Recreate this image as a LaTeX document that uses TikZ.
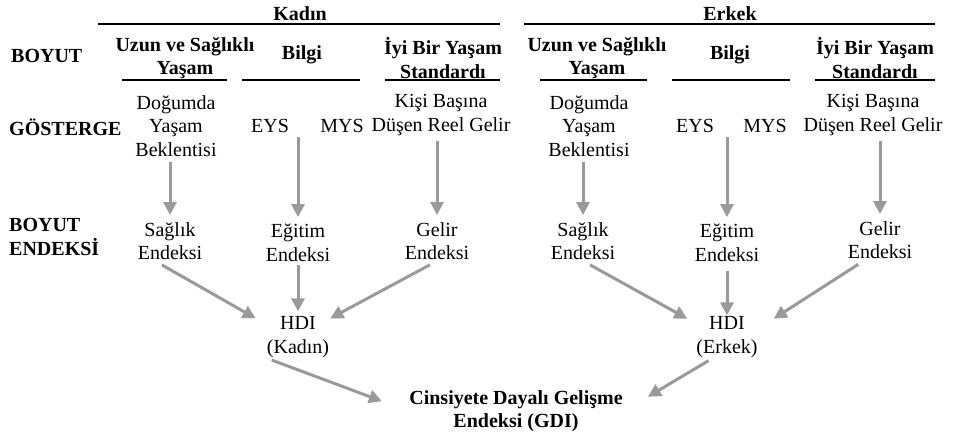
\documentclass[tikz,border=0pt]{standalone}
\usepackage{fontspec}
\setmainfont{Liberation Serif}
\usetikzlibrary{arrows.meta}
\definecolor{arrowgray}{HTML}{9A9A9A}
\begin{document}
\begin{tikzpicture}[x = 1pt, y = -1pt,
	lbl/.style = {align = center, inner sep = 1pt, font = \fontsize{20}{23.5}\selectfont},
	hd/.style = {lbl, font = \fontsize{20}{23.5}\selectfont\bfseries},
	rowlbl/.style = {hd, anchor = west, align = left},
	garrow/.style = {line width = 3pt, color = arrowgray, -{Triangle[width = 13pt, length = 13pt]}},
	rule/.style = {line width = 1.1pt}]
	\useasboundingbox (0, 0) rectangle (953, 437);
	% Row labels
	\node[rowlbl] (boyut) at (10, 56) {BOYUT};
	\node[rowlbl] (gosterge) at (8, 127) {GÖSTERGE};
	\node[rowlbl] (boyutend) at (8, 237) {BOYUT\\ENDEKSİ};
	
	% Headings
	\node[hd] (kadin) at (300, 14) {Kadın};
	\node[hd] (erkek) at (730, 14) {Erkek};
	\draw[rule] (98, 24) -- (500, 24);
	\draw[rule] (524, 24) -- (935, 24);
	
	% Dimensions
	\node[hd] (uzunK) at (185, 58) {Uzun ve Sağlıklı\\Yaşam};
	\node[hd] (bilgiK) at (302, 55) {Bilgi};
	\node[hd] (iyiK) at (443, 58) {İyi Bir Yaşam\\Standardı};
	\node[hd] (uzunE) at (597, 58) {Uzun ve Sağlıklı\\Yaşam};
	\node[hd] (bilgiE) at (730, 55) {Bilgi};
	\node[hd] (iyiE) at (875, 58) {İyi Bir Yaşam\\Standardı};
	\draw[rule] (122, 80) -- (227, 80);
	\draw[rule] (242, 80) -- (360, 80);
	\draw[rule] (385, 80) -- (500, 80);
	\draw[rule] (540, 80) -- (647, 80);
	\draw[rule] (672, 80) -- (790, 80);
	\draw[rule] (815, 80) -- (935, 80);
	
	% Indicators
	\node[lbl] (dogumK) at (176, 126) {Doğumda\\Yaşam\\Beklentisi};
	\node[lbl] (eysK) at (270, 126) {EYS};
	\node[lbl] (mysK) at (342, 126) {MYS};
	\coordinate (egK) at (298, 137);
	\node[lbl] (kisiK) at (441, 115) {Kişi Başına\\Düşen Reel Gelir};
	\node[lbl] (dogumE) at (589, 126) {Doğumda\\Yaşam\\Beklentisi};
	\node[lbl] (eysE) at (695, 126) {EYS};
	\node[lbl] (mysE) at (765, 126) {MYS};
	\coordinate (egE) at (727, 137);
	\node[lbl] (kisiE) at (873, 115) {Kişi Başına\\Düşen Reel Gelir};
	
	% Indices
	\node[lbl] (saglikK) at (170, 241) {Sağlık\\Endeksi};
	\node[lbl] (egitimK) at (298, 243) {Eğitim\\Endeksi};
	\node[lbl] (gelirK) at (437, 241) {Gelir\\Endeksi};
	\node[lbl] (saglikE) at (583, 241) {Sağlık\\Endeksi};
	\node[lbl] (egitimE) at (727, 243) {Eğitim\\Endeksi};
	\node[lbl] (gelirE) at (880, 240) {Gelir\\Endeksi};
	
	\node[lbl] (hdiK) at (298, 337) {HDI\\(Kadın)};
	\node[lbl] (hdiE) at (727, 337) {HDI\\(Erkek)};
	\node[hd] (gdi) at (516, 411) {Cinsiyete Dayalı Gelişme\\Endeksi (GDI)};
	
	% Edges
	\draw[garrow, shorten <= 4pt, shorten >= 6pt] (dogumK.south -| saglikK) -- (saglikK);
	\draw[garrow, shorten >= 6pt] (egK) -- (egitimK);
	\draw[garrow, shorten <= 4pt, shorten >= 6pt] (kisiK.south -| gelirK) -- (gelirK);
	\draw[garrow, shorten <= 4pt, shorten >= 6pt] (dogumE.south -| saglikE) -- (saglikE);
	\draw[garrow, shorten >= 6pt] (egE) -- (egitimE);
	\draw[garrow, shorten <= 4pt, shorten >= 6pt] (kisiE.south -| gelirE) -- (gelirE);
	
	\draw[garrow, shorten <= 8pt] ([xshift = -15pt]saglikK.south) -- ([xshift = -10pt]hdiK.150);
	\draw[garrow, shorten <= 2pt, shorten >= 4pt] (egitimK) -- (hdiK);
	\draw[garrow, shorten <= 8pt] (gelirK.south) -- (hdiK.30);
	\draw[garrow, shorten <= 8pt] (saglikE.south) -- ([xshift = -8pt]hdiE.150);
	\draw[garrow, shorten <= 8pt] (egitimE) -- (hdiE);
	\draw[garrow, shorten <= 8pt] ([xshift = -15pt]gelirE.south) -- ([xshift = 15pt]hdiE.30);
	
	\draw[garrow, shorten <= 4pt, shorten >= 28pt] ([xshift = -30pt]hdiK.south) -- (gdi.west);
	\draw[garrow, shorten <= 4pt, shorten >= 28pt] ([xshift = -15pt]hdiE.south) -- (gdi.east);
\end{tikzpicture}
\end{document}
